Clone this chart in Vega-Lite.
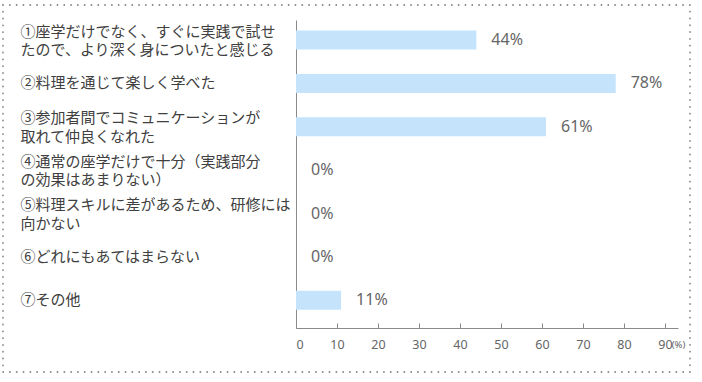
{
  "$schema": "https://vega.github.io/schema/vega-lite/v6.json",
  "width": 687,
  "height": 367,
  "autosize": "none",
  "padding": {"left": 3, "top": 5, "right": 12, "bottom": 10},
  "background": "white",
  "config": {
    "view": {"stroke": "#8a8a8a", "strokeWidth": 1.8, "strokeDash": [0.1, 6.7], "strokeCap": "round"},
    "font": "Noto Sans CJK JP"
  },
  "data": {
    "values": [
      {"item": "①座学だけでなく、すぐに実践で試せ\nたので、より深く身についたと感じる", "value": 44},
      {"item": "②料理を通じて楽しく学べた", "value": 78},
      {"item": "③参加者間でコミュニケーションが\n取れて仲良くなれた", "value": 61},
      {"item": "④通常の座学だけで十分（実践部分\nの効果はあまりない）", "value": 0},
      {"item": "⑤料理スキルに差があるため、研修には\n向かない", "value": 0},
      {"item": "⑥どれにもあてはまらない", "value": 0},
      {"item": "⑦その他", "value": 11}
    ]
  },
  "transform": [{"calculate": "datum.value + '%'", "as": "label"}],
  "encoding": {
    "y": {
      "field": "item",
      "type": "nominal",
      "sort": null,
      "scale": {"range": [15, 323], "paddingInner": 0.562, "paddingOuter": 0.332, "align": 0.368},
      "axis": {
        "title": null,
        "offset": -293,
        "ticks": false,
        "tickSize": 0,
        "labelPadding": 276,
        "labelAlign": "left",
        "labelBaseline": "middle",
        "labelExpr": "split(datum.label, '\\n')",
        "labelOffset": {"condition": {"test": "indexof(datum.value, '\\n') >= 0", "value": -8.5}, "value": 0},
        "labelLineHeight": 18.5,
        "labelFontSize": 15,
        "labelFont": "Noto Sans CJK JP",
        "labelColor": "#404040",
        "labelLimit": 0,
        "domainColor": "#8a8a8a",
        "domainWidth": 1
      }
    },
    "x": {
      "field": "value",
      "type": "quantitative",
      "scale": {"domain": [0, 93.2], "range": [293, 675], "nice": false, "zero": true},
      "axis": {
        "title": "(%)",
        "titleX": 675,
        "titleY": 16,
        "titleAlign": "center",
        "titleBaseline": "middle",
        "titleFontSize": 9.5,
        "titleFontWeight": "normal",
        "titleColor": "#666666",
        "titleFont": "Noto Sans",
        "offset": -44,
        "values": [0, 10, 20, 30, 40, 50, 60, 70, 80, 90],
        "grid": false,
        "tickSize": -5,
        "tickColor": "#8a8a8a",
        "domainColor": "#8a8a8a",
        "labelPadding": 15,
        "labelFontSize": 12.5,
        "labelFont": "Noto Sans",
        "labelColor": "#666666"
      }
    }
  },
  "layer": [
    {"mark": {"type": "bar", "color": "#c5e3fb"}},
    {
      "mark": {"type": "text", "align": "left", "baseline": "middle", "dx": 15, "fontSize": 16, "font": "Noto Sans", "color": "#666666"},
      "encoding": {"text": {"field": "label"}}
    }
  ]
}
